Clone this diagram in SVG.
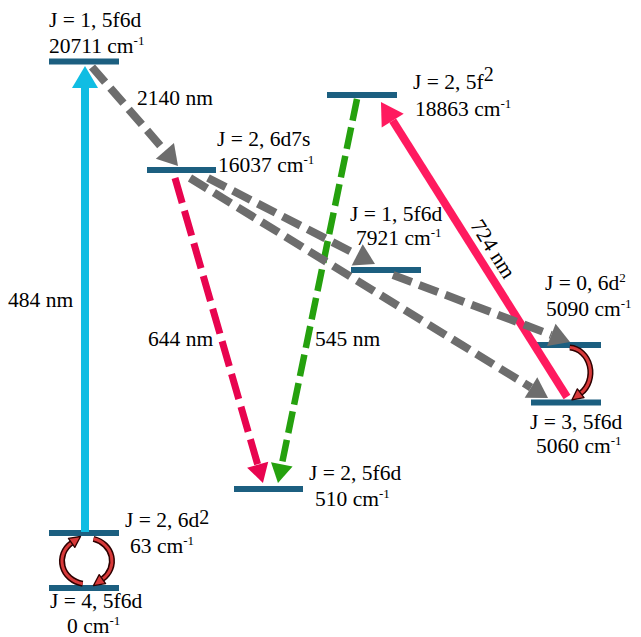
<svg xmlns="http://www.w3.org/2000/svg" width="641" height="637" viewBox="0 0 641 637">
<style>
  text { font-family: "Liberation Serif", "Times New Roman", serif; font-size: 21.5px; fill: #000; }
  .sup { font-size: 13px; }
  .bar { fill: #1c5f80; }
  .gray { stroke: #6d6d6d; stroke-width: 8; fill: none; stroke-dasharray: 20 8; }
  .red { stroke: #e8044f; stroke-width: 7; fill: none; stroke-dasharray: 26 8; }
  .green { stroke: #25a10e; stroke-width: 6.5; fill: none; stroke-dasharray: 22 7; }
  .cyan { stroke: #10bde3; stroke-width: 8; fill: none; }
  .pink { stroke: #ff1a5f; stroke-width: 8; fill: none; }
  .loopOut { stroke: #2e0000; stroke-width: 6; fill: none; }
  .loopIn { stroke: #d83a3a; stroke-width: 3; fill: none; }
</style>
<defs>
  <marker id="hCyan" markerUnits="userSpaceOnUse" markerWidth="22" markerHeight="26" refX="0" refY="13" orient="auto" overflow="visible">
    <path d="M0,0 L22,13 L0,26 z" fill="#10bde3"/>
  </marker>
  <marker id="hGray" markerUnits="userSpaceOnUse" markerWidth="20" markerHeight="24" refX="0" refY="12" orient="auto" overflow="visible">
    <path d="M0,0 L20,12 L0,24 z" fill="#6d6d6d"/>
  </marker>
  <marker id="hRed" markerUnits="userSpaceOnUse" markerWidth="19" markerHeight="22" refX="0" refY="11" orient="auto" overflow="visible">
    <path d="M0,0 L19,11 L0,22 z" fill="#e8044f"/>
  </marker>
  <marker id="hGreen" markerUnits="userSpaceOnUse" markerWidth="19" markerHeight="22" refX="0" refY="11" orient="auto" overflow="visible">
    <path d="M0,0 L19,11 L0,22 z" fill="#25a10e"/>
  </marker>
  <marker id="hPink" markerUnits="userSpaceOnUse" markerWidth="22" markerHeight="26" refX="0" refY="13" orient="auto" overflow="visible">
    <path d="M0,0 L22,13 L0,26 z" fill="#ff1a5f"/>
  </marker>
  <marker id="hLoop" markerUnits="userSpaceOnUse" markerWidth="11" markerHeight="11" refX="0" refY="5.5" orient="auto" overflow="visible">
    <path d="M0,0 L11,5.5 L0,11 z" fill="#d83a3a" stroke="#2e0000" stroke-width="1.3" stroke-linejoin="round"/>
  </marker>
</defs>

<g id="level-20711">
  <rect class="bar" x="49" y="58.5" width="70" height="6"/>
  <text x="49" y="27">J = 1, 5f6d</text>
  <text x="49" y="53">20711 cm<tspan class="sup" dy="-8">-1</tspan></text>
</g>
<g id="level-16037">
  <rect class="bar" x="147" y="167" width="69" height="6"/>
  <text x="217" y="146">J = 2, 6d7s</text>
  <text x="218" y="172">16037 cm<tspan class="sup" dy="-8">-1</tspan></text>
</g>
<g id="level-18863">
  <rect class="bar" x="327" y="92" width="70" height="6"/>
  <text x="413" y="89">J = 2, 5f<tspan style="font-size:20px" dy="-8">2</tspan></text>
  <text x="415" y="116">18863 cm<tspan class="sup" dy="-8">-1</tspan></text>
</g>
<g id="level-7921">
  <rect class="bar" x="351" y="267" width="70" height="6"/>
  <text x="350" y="221">J = 1, 5f6d</text>
  <text x="356" y="245">7921 cm<tspan class="sup" dy="-8">-1</tspan></text>
</g>
<g id="level-5090">
  <rect class="bar" x="535" y="342" width="66" height="6"/>
  <text x="545" y="290">J = 0, 6d<tspan class="sup" dy="-8">2</tspan></text>
  <text x="546" y="316">5090 cm<tspan class="sup" dy="-8">-1</tspan></text>
</g>
<g id="level-5060">
  <rect class="bar" x="531" y="399.5" width="70" height="6"/>
  <text x="530" y="429">J = 3, 5f6d</text>
  <text x="536" y="453">5060 cm<tspan class="sup" dy="-8">-1</tspan></text>
</g>
<g id="level-510">
  <rect class="bar" x="234" y="486" width="69" height="6"/>
  <text x="309" y="480">J = 2, 5f6d</text>
  <text x="315" y="506">510 cm<tspan class="sup" dy="-8">-1</tspan></text>
</g>
<g id="level-63">
  <rect class="bar" x="49" y="530" width="70" height="6"/>
  <text x="125" y="527">J = 2, 6d<tspan style="font-size:20px" dy="-3">2</tspan></text>
  <text x="130" y="553">63 cm<tspan class="sup" dy="-8">-1</tspan></text>
</g>
<g id="level-0">
  <rect class="bar" x="49" y="585" width="70" height="6"/>
  <text x="50" y="608">J = 4, 5f6d</text>
  <text x="67" y="633">0 cm<tspan class="sup" dy="-8">-1</tspan></text>
</g>

<g id="connectors">
  <line class="cyan" x1="85" y1="532" x2="85" y2="88" marker-end="url(#hCyan)"/>
  <line class="red" x1="175" y1="178" x2="257.7" y2="464.7" marker-end="url(#hRed)"/>
  <line class="green" x1="357" y1="99" x2="281.8" y2="464.4" marker-end="url(#hGreen)"/>
  <line class="pink" x1="567" y1="397" x2="392.7" y2="120.6" marker-end="url(#hPink)"/>
  <line class="gray" x1="92" y1="67" x2="164.9" y2="150.9" marker-end="url(#hGray)"/>
  <line class="gray" x1="208" y1="178" x2="357.2" y2="254.8" marker-end="url(#hGray)"/>
  <line class="gray" x1="190" y1="178" x2="531" y2="387.5" marker-end="url(#hGray)"/>
  <line class="gray" x1="393" y1="275" x2="551.3" y2="334.9" marker-end="url(#hGray)"/>

  <path class="loopOut" d="M 82.7 583.7 A 25 23 0 0 1 71.6 542.9"/>
  <path class="loopIn" d="M 82.7 583.7 A 25 23 0 0 1 71.6 542.9" marker-end="url(#hLoop)"/>
  <path class="loopOut" d="M 93.5 538.8 A 25 23 0 0 1 102.4 579.1"/>
  <path class="loopIn" d="M 93.5 538.8 A 25 23 0 0 1 102.4 579.1" marker-end="url(#hLoop)"/>
  <path class="loopOut" d="M 569.8 347.5 A 22 25 0 0 1 580.7 393.2"/>
  <path class="loopIn" d="M 569.8 347.5 A 22 25 0 0 1 580.7 393.2" marker-end="url(#hLoop)"/>

  <text x="137" y="105">2140 nm</text>
  <text x="8" y="307">484 nm</text>
  <text x="148" y="346">644 nm</text>
  <text x="315" y="346">545 nm</text>
  <text transform="translate(493,249) rotate(57.8)" x="0" y="7" text-anchor="middle">724 nm</text>
</g>
</svg>
